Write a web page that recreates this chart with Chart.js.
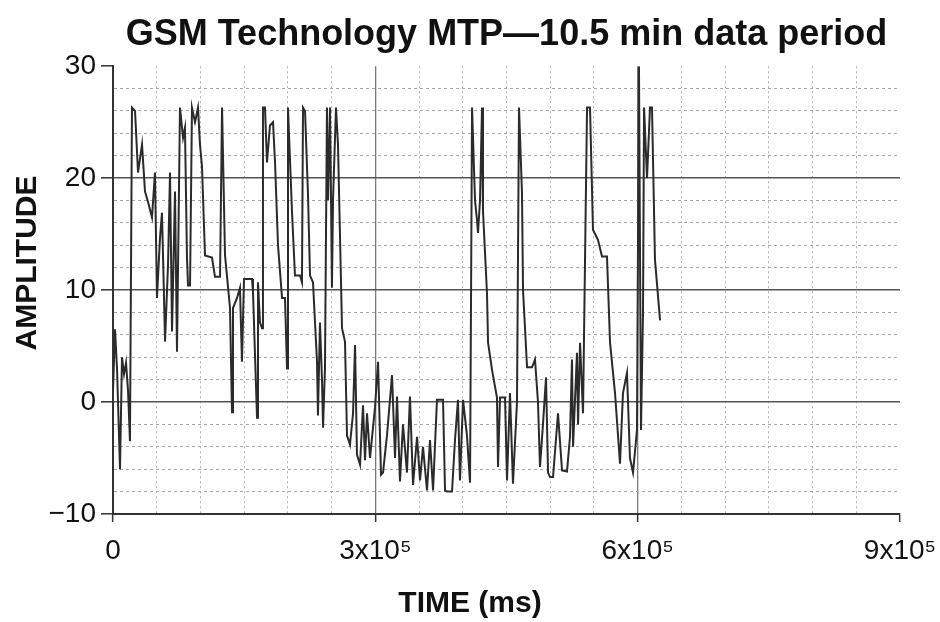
<!DOCTYPE html>
<html>
<head>
<meta charset="utf-8">
<title>GSM Technology MTP</title>
<script src="https://cdn.jsdelivr.net/npm/chart.js@4.4.1/dist/chart.umd.min.js"></script>
<style>
  html, body { margin: 0; padding: 0; background: #fff; }
</style>
</head>
<body>
<canvas id="mtpChart" width="940" height="622"></canvas>
<script>
// time (ms) and amplitude
const timeMs = [
  0, 2300, 4600, 8000, 10300, 12600, 14900, 17200, 19400, 21700,
  25200, 28600, 33200, 36600, 40000, 44600, 48000, 50300, 53700, 56000,
  57200, 59500, 62900, 65200, 67500, 70900, 73200, 76600, 80100, 82300,
  84600, 85800, 88100, 90300, 93800, 97200, 99500, 101800, 105200, 113200,
  116600, 122400, 124700, 128100, 133800, 136100, 137200, 141800, 145200, 147500,
  149800, 159000, 160100, 164700, 165800, 168100, 170400, 171500, 173800, 176100,
  179500, 183000, 185300, 188700, 193300, 196700, 199000, 200100, 204700, 208100,
  213900, 216100, 217300, 219600, 223000, 225300, 228700, 233300, 234400, 236700,
  239000, 240200, 242400, 244700, 245900, 248200, 250400, 251600, 255000, 257300,
  261900, 265300, 267600, 271000, 274500, 276800, 279000, 282500, 285900, 288200,
  290500, 293900, 299600, 303100, 306500, 308800, 313300, 319100, 322500, 324800,
  328200, 331600, 336200, 339600, 343100, 347700, 351100, 354500, 359100, 362500,
  366000, 370500, 377400, 379700, 382000, 387700, 391100, 394500, 396800, 400300,
  404800, 408300, 410600, 414000, 416300, 417400, 419700, 422000, 423100, 427700,
  428900, 433400, 439100, 440300, 442600, 448300, 450600, 454000, 457400, 462000,
  464300, 467700, 468900, 473500, 479200, 482600, 486000, 488300, 491700, 495200,
  497500, 499800, 503200, 508900, 513500, 519200, 522600, 524900, 526100, 530600,
  531800, 534100, 537500, 539800, 542100, 545500, 548900, 554600, 559200, 564900,
  568400, 574100, 579800, 583200, 587800, 591200, 594700, 599200, 601500, 603800,
  606100, 607300, 610700, 614100, 616400, 619800, 625600
];
const amplitude = [
  1, 6.5, 3, -6, 4, 2.5, 3.5, 1, -3.5, 26.3,
  26, 20.5, 23, 18.8, 17.9, 16.5, 20.5, 9.3, 14.6, 16.9,
  13.1, 5.4, 12.2, 20.5, 6.3, 18.8, 4.5, 26.3, 23.6, 24.5,
  12.9, 10.4, 10.4, 26.3, 25, 26.3, 23, 21, 13.1, 12.9,
  11.2, 11.2, 26.3, 13.1, 8.4, -0.9, 8.4, 9.3, 10.2, 3.6,
  11, 11, 9.8, -1.4, 10.7, 7.1, 6.6, 26.3, 26.3, 21.4,
  24.7, 25, 21.4, 14, 9.3, 9.3, 3, 26.3, 17, 11.3,
  11.3, 10.7, 26.3, 26, 18.5, 11.3, 10.7, 3.6, -1.2, 7.1,
  2, -2.3, 3, 26.3, 18, 26.3, 10.2, 18, 26.3, 23,
  6.6, 5.4, -3, -3.8, -1, 5.1, -4.7, -5.6, -0.3, -5.2,
  -1, -5, -0.5, 3.6, -6.5, -6.3, -3, 2.4, -5, 0.5,
  -7.1, -2, -6.3, 0.5, -7.4, -3.1, -7, -4, -7.9, -3.4,
  -7.9, 0.2, 0.2, -7.9, -8, -8, -3.4, 0.2, -7, 0.2,
  -3, -7.2, 26.3, 18, 16.2, 15.1, 18, 26.3, 17.1, 9.7,
  5.3, 2.9, 0.4, -5.8, 0.4, 0.4, -7, 0.8, -7.3, 0,
  26.3, 18.7, 10, 3.1, 3.1, 3.8, 0, -5.8, -2, 2.2,
  -6.3, -6.7, -6.7, -1, -6.1, -6.2, -3.1, 3.8, -4, 4.4,
  -2, 5.3, -1, 12.7, 26.3, 26.3, 15.4, 14.5, 13, 13,
  5.3, 0.8, -5.5, 0.8, 2.6, -5, -6.3, -2.5, 30, -2.5,
  8, 26.3, 20, 26.3, 26.3, 12.7, 7.3
];

const xTicks = [0, 300000, 600000, 900000];
const xTickLabels = ["0", "3x10⁵", "6x10⁵", "9x10⁵"];
const yTicks = [-10, 0, 10, 20, 30];
const yTickLabels = ["−10", "0", "10", "20", "30"];

const FONT = '"Liberation Sans", Arial, sans-serif';
const points = timeMs.map((t, i) => ({ x: t, y: amplitude[i] }));

// axis titles sit a little off-centre in the original, so draw them here
const axisTitles = {
    id: "axisTitles",
    afterDraw(chart) {
        const c = chart.ctx;
        c.save();
        c.fillStyle = "#111";
        c.font = "bold 30px " + FONT;
        c.textAlign = "center";
        c.textBaseline = "middle";
        c.fillText("TIME (ms)", 470, 604);
        c.translate(28, 263);
        c.rotate(-Math.PI / 2);
        c.fillText("AMPLITUDE", 0, 0);
        c.restore();
    }
};

new Chart(document.getElementById("mtpChart"), {
    type: "line",
    data: {
        datasets: [{
            data: points,
            borderColor: "#2b2b2b",
            borderWidth: 2,
            pointRadius: 0,
            tension: 0,
            fill: false
        }]
    },
    options: {
        responsive: false,
        animation: false,
        devicePixelRatio: 1,
        layout: { padding: { left: 0, right: 40, top: 0, bottom: 0 } },
        plugins: {
            legend: { display: false },
            tooltip: { enabled: false },
            title: {
                display: true,
                fullSize: false,
                text: "GSM Technology MTP—10.5 min data period",
                color: "#111",
                font: { family: FONT, size: 36, weight: "bold", lineHeight: 1.2 },
                padding: { top: 13, bottom: 10 }
            }
        },
        scales: {
            x: {
                type: "linear",
                min: 0,
                max: 900000,
                afterFit: s => {
                    s.height = 108;
                    s.paddingLeft = 0;
                    s.paddingRight = 0;
                },
                ticks: {
                    stepSize: 50000,
                    autoSkip: false,
                    maxRotation: 0,
                    padding: 12,
                    color: "#111",
                    font: { family: FONT, size: 28 },
                    callback: v => {
                        const i = xTicks.indexOf(v);
                        return i >= 0 ? xTickLabels[i] : "";
                    }
                },
                grid: {
                    color: ctx => {
                        const v = ctx.tick ? ctx.tick.value : 0;
                        if (v === 900000) return "rgba(0,0,0,0)";
                        if (v === 300000 || v === 600000) return "#7a7a7a";
                        return "#b0b0b0";
                    },
                    lineWidth: ctx => (ctx.tick && xTicks.includes(ctx.tick.value)) ? 1.3 : 1,
                    tickColor: ctx => (ctx.tick && xTicks.includes(ctx.tick.value)) ? "#333" : "rgba(0,0,0,0)",
                    tickLength: 8,
                    tickWidth: 1.5
                },
                border: {
                    color: "#333",
                    width: 2,
                    dash: ctx => (ctx.tick && !xTicks.includes(ctx.tick.value)) ? [2, 3] : []
                }
            },
            y: {
                min: -10,
                max: 30,
                afterFit: s => { s.width = 113; },
                ticks: {
                    stepSize: 2,
                    autoSkip: false,
                    padding: 5,
                    color: "#111",
                    font: { family: FONT, size: 28 },
                    callback: v => {
                        const i = yTicks.indexOf(v);
                        return i >= 0 ? yTickLabels[i] : "";
                    }
                },
                grid: {
                    color: ctx => {
                        const v = ctx.tick ? ctx.tick.value : 0;
                        if (v === 30) return "rgba(0,0,0,0)";
                        if (yTicks.includes(v)) return "#555";
                        return "#a8a8a8";
                    },
                    lineWidth: ctx => (ctx.tick && yTicks.includes(ctx.tick.value)) ? 1.6 : 1,
                    tickColor: ctx => (ctx.tick && yTicks.includes(ctx.tick.value)) ? "#333" : "rgba(0,0,0,0)",
                    tickLength: 12,
                    tickWidth: 1.5
                },
                border: {
                    color: "#333",
                    width: 2,
                    dash: ctx => (ctx.tick && !yTicks.includes(ctx.tick.value)) ? [3, 3] : []
                }
            }
        }
    },
    plugins: [axisTitles]
});
</script>
</body>
</html>
